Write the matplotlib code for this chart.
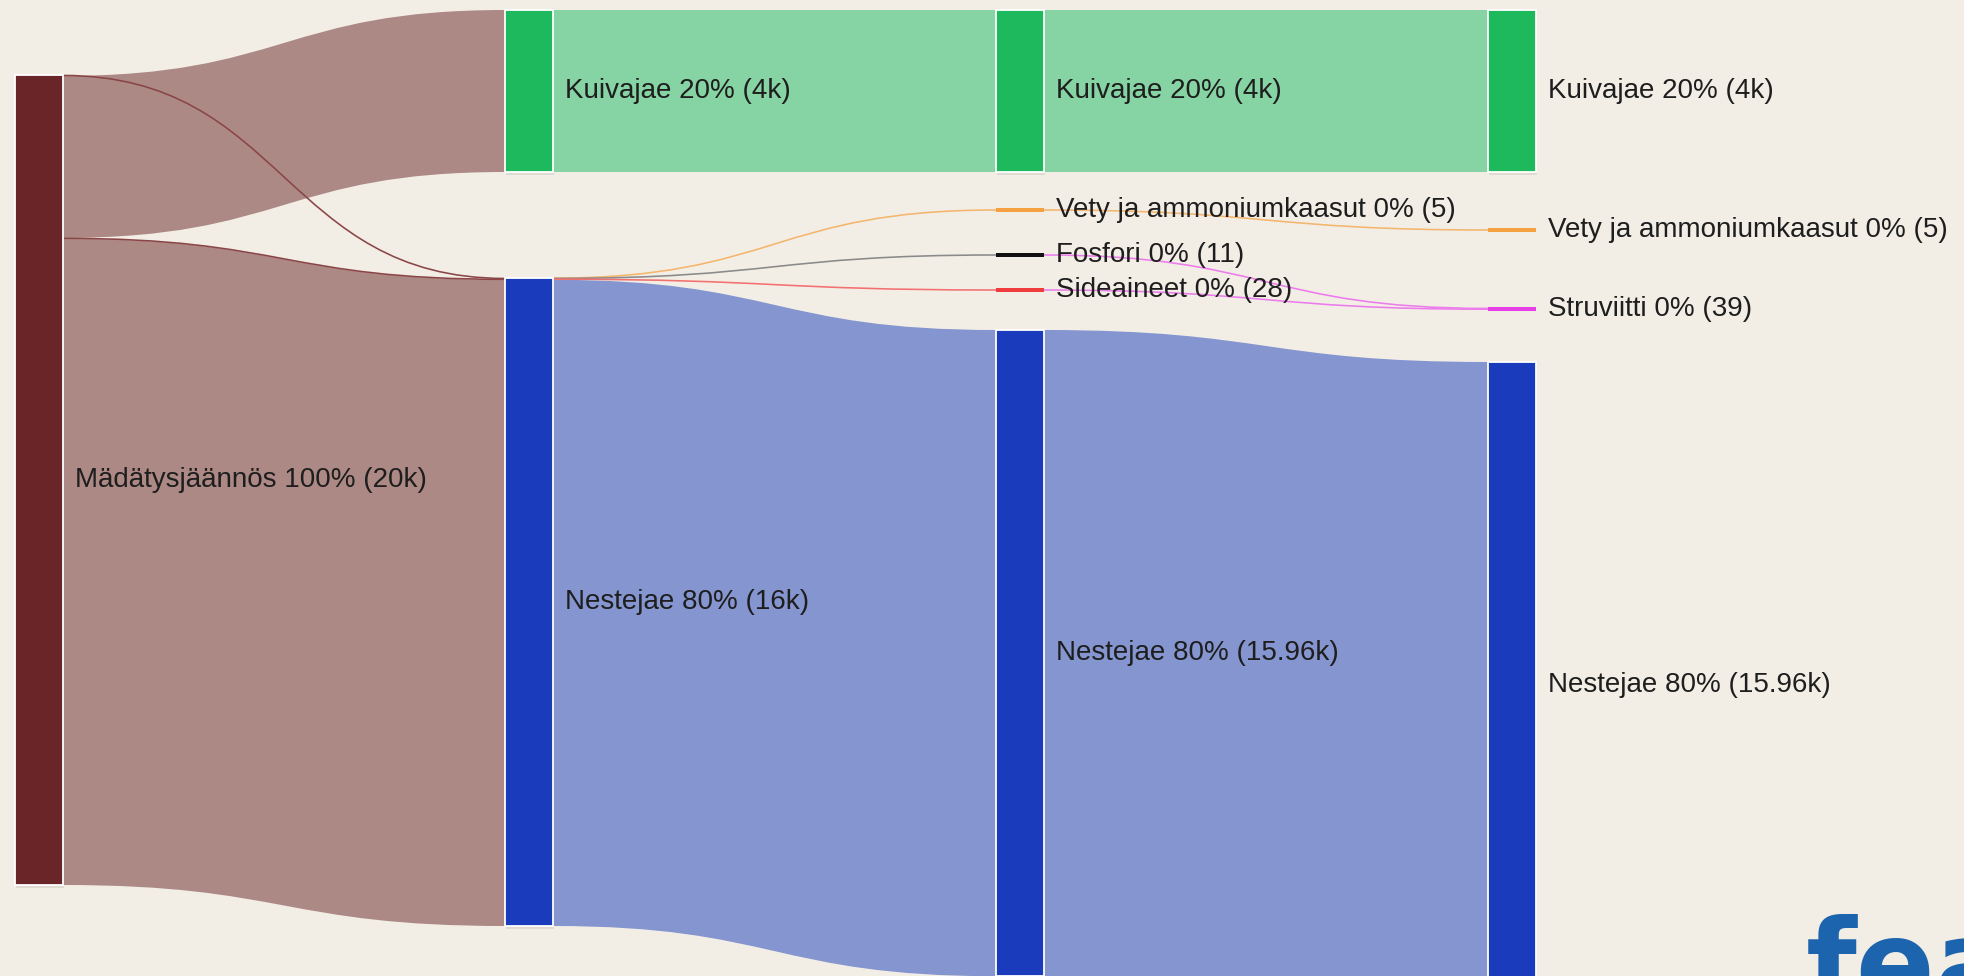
# sankey: mädätysjäännöksen jakeet
import matplotlib
matplotlib.use("Agg")
import matplotlib.pyplot as plt
from matplotlib.path import Path
from matplotlib.patches import PathPatch, Rectangle

# --- data ---
node_labels = [
    "Mädätysjäännös 100% (20k)",
    "Kuivajae 20% (4k)", "Nestejae 80% (16k)",
    "Kuivajae 20% (4k)", "Vety ja ammoniumkaasut 0% (5)", "Fosfori 0% (11)",
    "Sideaineet 0% (28)", "Nestejae 80% (15.96k)",
    "Kuivajae 20% (4k)", "Vety ja ammoniumkaasut 0% (5)", "Struviitti 0% (39)",
    "Nestejae 80% (15.96k)",
]
node_values = [20000, 4000, 16000, 4000, 5, 11, 28, 15956, 4000, 5, 39, 15956]
node_colors = ["#6a2528", "#1db95c", "#1a3bbb", "#1db95c", "#f5a142", "#111111",
               "#f03c3c", "#1a3bbb", "#1db95c", "#f5a142", "#e83ee8", "#1a3bbb"]

link_source = [0, 0, 0, 0, 1, 2, 2, 2, 2, 3, 4, 5, 6, 7]
link_target = [2, 1, 2, 2, 3, 4, 5, 6, 7, 8, 9, 10, 10, 11]
link_value = [22, 4000, 22, 15956, 4000, 5, 11, 28, 15956, 4000, 5, 11, 28, 15956]
link_colors = ["#8a4547", "#ad8985", "#8a4547", "#ad8985", "#86d3a3", "#f4b56c",
               "#8a8a8a", "#f27070", "#8595cf", "#86d3a3", "#f4b56c", "#ec7cec",
               "#ec7cec", "#8595cf"]

# --- layout (pixels) ---
W, H = 1965, 976
col_x = [15, 505, 996, 1488]
node_col = [0, 1, 1, 2, 2, 2, 2, 2, 3, 3, 3, 3]
node_top = [75, 10, 278, 10, 208, 253, 288, 330, 10, 228, 307, 362]
node_w = 48
scale = 0.0405  # px per unit
min_h = 4

bg = "#f2eee6"
fig = plt.figure(figsize=(W / 100, H / 100), dpi=100, facecolor=bg)
ax = fig.add_axes([0, 0, 1, 1])
ax.set_xlim(0, W)
ax.set_ylim(H, 0)
ax.axis("off")
ax.set_facecolor(bg)

n = len(node_labels)
heights = [max(v * scale, min_h) for v in node_values]
pad_out = [(heights[i] - node_values[i] * scale) / 2 for i in range(n)]
pad_in = list(pad_out)
off_out = [0.0] * n
off_in = [0.0] * n

# links
for s, t, v, c in zip(link_source, link_target, link_value, link_colors):
    w = v * scale
    x0 = col_x[node_col[s]] + node_w
    x1 = col_x[node_col[t]]
    y0 = node_top[s] + pad_out[s] + off_out[s]
    y1 = node_top[t] + pad_in[t] + off_in[t]
    off_out[s] += w
    off_in[t] += w
    xm = (x0 + x1) / 2
    if w >= 2:
        verts = [(x0, y0), (xm, y0), (xm, y1), (x1, y1),
                 (x1, y1 + w), (xm, y1 + w), (xm, y0 + w), (x0, y0 + w), (x0, y0)]
        codes = [Path.MOVETO, Path.CURVE4, Path.CURVE4, Path.CURVE4,
                 Path.LINETO, Path.CURVE4, Path.CURVE4, Path.CURVE4, Path.CLOSEPOLY]
        ax.add_patch(PathPatch(Path(verts, codes), facecolor=c, edgecolor="none", zorder=1))
    else:
        yc0, yc1 = y0 + w / 2, y1 + w / 2
        verts = [(x0, yc0), (xm, yc0), (xm, yc1), (x1, yc1)]
        codes = [Path.MOVETO, Path.CURVE4, Path.CURVE4, Path.CURVE4]
        ax.add_patch(PathPatch(Path(verts, codes), facecolor="none", edgecolor=c,
                               lw=max(w, 1.6) * 0.72, zorder=2))

# nodes
for i in range(n):
    x = col_x[node_col[i]]
    h = heights[i]
    if h > 10:
        ax.add_patch(Rectangle((x + 1, node_top[i] + 3), node_w, h, facecolor="#000000",
                               alpha=0.08, edgecolor="none", zorder=3))
        ax.add_patch(Rectangle((x, node_top[i]), node_w, h, facecolor=node_colors[i],
                               edgecolor="white", lw=1.3, zorder=4))
    else:
        ax.add_patch(Rectangle((x, node_top[i]), node_w, h, facecolor=node_colors[i],
                               edgecolor="none", zorder=4))
    ax.text(x + node_w + 12, node_top[i] + h / 2, node_labels[i], fontsize=20,
            family="Liberation Sans", color="#1e1e1e", va="center", ha="left", zorder=5)

# logo corner (cut off by the edge, as in the original)
ax.text(1806, 1004, "fea", fontsize=84, fontweight="bold", family="DejaVu Sans",
        color="#1c64ad", ha="left", va="baseline", zorder=6, clip_on=True)

fig.savefig("out.png", dpi=100, facecolor=bg)
